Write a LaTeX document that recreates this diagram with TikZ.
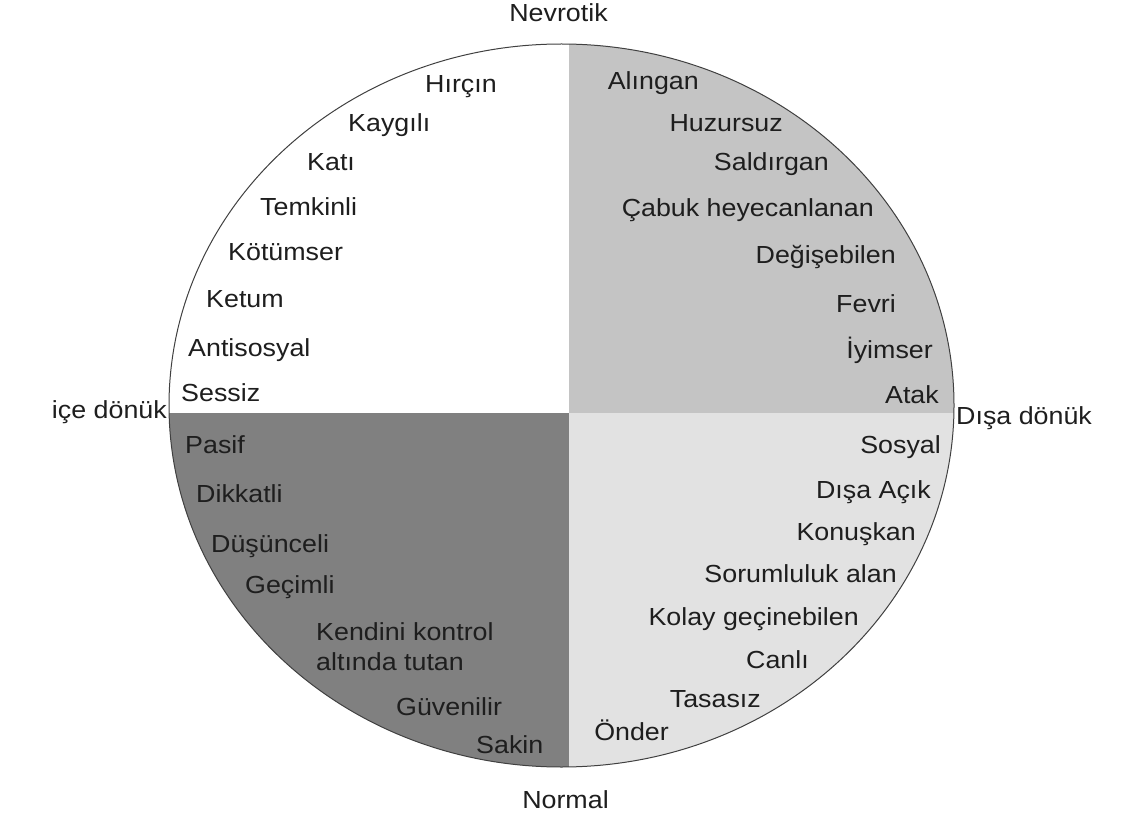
\documentclass[tikz,border=0pt]{standalone}
\usepackage{fontspec}
\setmainfont{Liberation Sans}[FakeStretch=1.086]
\usetikzlibrary{positioning}
\definecolor{nevrotikgray}{RGB}{196,196,196}
\definecolor{normalgray}{RGB}{128,128,128}
\definecolor{disagray}{RGB}{226,226,226}
\definecolor{traitink}{RGB}{30,30,30}
\tikzstyle{trait}=[
	inner sep=0pt,
	text=traitink,
	font=\fontsize{24.7}{30}\selectfont
]
\tikzstyle{traitL}=[trait, anchor=base west]
\tikzstyle{traitR}=[trait, anchor=base east]
\tikzstyle{rim}=[
	draw=black!75,
	line width=1pt
]

\begin{document}
\begin{tikzpicture}[x=1pt, y=-1pt]
\useasboundingbox (0,0) rectangle (1121,818);
% quadrants
\begin{scope}
	\clip (561.5,405.5) ellipse [x radius=392.5pt, y radius=361.5pt];
	\fill[white] (0,0) rectangle (569,413);
	\fill[nevrotikgray] (569,0) rectangle (1121,413);
	\fill[normalgray] (0,413) rectangle (569,818);
	\fill[disagray] (569,413) rectangle (1121,818);
\end{scope}
\draw[rim] (561.5,405.5) ellipse [x radius=392.5pt, y radius=361.5pt];
% axes
\node [trait, anchor=base] (Nevrotik) at (558.5,22) {Nevrotik};
\node [trait, anchor=base] (Normal) at (565.5,808) {Normal};
\node [traitR] (IceDonuk) at (167,418) {içe dönük};
\node [traitL] (DisaDonuk) at (956,424) {Dışa dönük};
% top left
\node [traitL] (Hircin) at (425,93) {Hırçın};
\node [traitL] (Kaygili) at (348,132) {Kaygılı};
\node [traitL] (Kati) at (307,171) {Katı};
\node [traitL] (Temkinli) at (260,216) {Temkinli};
\node [traitL] (Kotumser) at (228,261) {Kötümser};
\node [traitL] (Ketum) at (206,307) {Ketum};
\node [traitL] (Antisosyal) at (188,356) {Antisosyal};
\node [traitL] (Sessiz) at (181,401) {Sessiz};
% top right
\node [traitR] (Alingan) at (699,90) {Alıngan};
\node [traitR] (Huzursuz) at (783,132) {Huzursuz};
\node [traitR] (Saldirgan) at (829,171) {Saldırgan};
\node [traitR] (Cabuk) at (874,217) {Çabuk heyecanlanan};
\node [traitR] (Degisebilen) at (896,263) {Değişebilen};
\node [traitR] (Fevri) at (896,312) {Fevri};
\node [traitR] (Iyimser) at (933,358) {İyimser};
\node [traitR] (Atak) at (939,403) {Atak};
% bottom left
\node [traitL] (Pasif) at (185,453) {Pasif};
\node [traitL] (Dikkatli) at (196,502) {Dikkatli};
\node [traitL] (Dusunceli) at (211,552) {Düşünceli};
\node [traitL] (Gecimli) at (245,593) {Geçimli};
\node [traitL] (Kendini) at (316,640) {Kendini kontrol};
\node [traitL] (Altinda) at ([yshift=-30pt]Kendini.base west) {altında tutan};
\node [traitL] (Guvenilir) at (396,715) {Güvenilir};
\node [traitL] (Sakin) at (476,753) {Sakin};
% bottom right
\node [traitR] (Sosyal) at (941,453) {Sosyal};
\node [traitR] (DisaAcik) at (931,498) {Dışa Açık};
\node [traitR] (Konuskan) at (916,540) {Konuşkan};
\node [traitR] (Sorumluluk) at (897,582) {Sorumluluk alan};
\node [traitR] (Kolay) at (859,625) {Kolay geçinebilen};
\node [traitR] (Canli) at (809,668) {Canlı};
\node [traitR] (Tasasiz) at (761,707) {Tasasız};
\node [traitR] (Onder) at (669,740) {Önder};
\end{tikzpicture}
\end{document}
